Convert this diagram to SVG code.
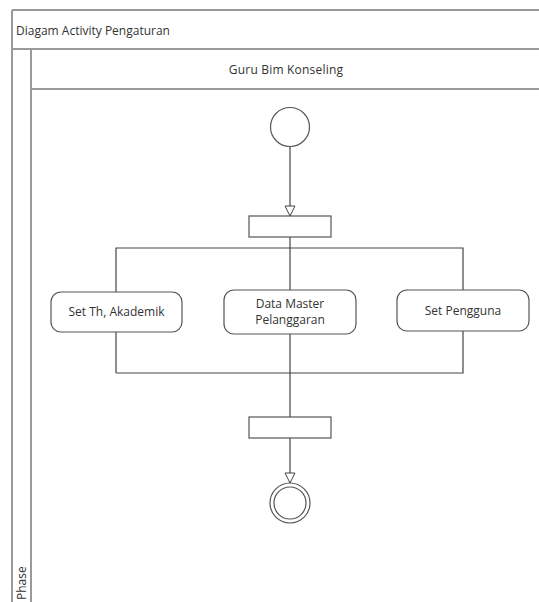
<svg xmlns="http://www.w3.org/2000/svg" width="539" height="602" viewBox="0 0 539 602">
  <style>
    .frame { fill: none; stroke: #9a9a9a; stroke-width: 2; }
    .shape { fill: #ffffff; stroke: #555555; stroke-width: 1.2; }
    .line { fill: none; stroke: #444444; stroke-width: 1.2; }
    .label { font-family: "Open Sans", "Liberation Sans", sans-serif; font-size: 12px; fill: #333333; }
  </style>
  <defs>
    <marker id="open-arrow" viewBox="0 0 12 12" refX="11" refY="6" markerWidth="12" markerHeight="12" markerUnits="userSpaceOnUse" orient="auto">
      <path d="M1,1 L11,6 L1,11 Z" fill="#ffffff" stroke="#444444" stroke-width="1"/>
    </marker>
  </defs>
  <rect width="539" height="602" fill="#ffffff"/>

  <!-- diagram frame and swimlane -->
  <g id="frame">
    <line class="frame" x1="12" y1="10" x2="539" y2="10"/>
    <line class="frame" x1="12" y1="10" x2="12" y2="602"/>
    <line class="frame" x1="12" y1="49" x2="539" y2="49"/>
    <line class="frame" x1="31" y1="49" x2="31" y2="602"/>
    <line class="frame" x1="31" y1="89" x2="539" y2="89"/>
    <text class="label" x="16" y="35" font-size="12.7">Diagam Activity Pengaturan</text>
    <text class="label" x="286" y="74" text-anchor="middle" font-size="13" letter-spacing="0.2">Guru Bim Konseling</text>
    <text class="label" transform="translate(26,600) rotate(-90)" font-size="10.5">Phase</text>
  </g>

  <!-- connectors -->
  <g id="connectors">
    <line class="line" x1="290" y1="147" x2="290" y2="216" marker-end="url(#open-arrow)"/>
    <line class="line" x1="290" y1="237" x2="290" y2="417"/>
    <polyline class="line" points="116,373 116,248 463,248 463,373 116,373"/>
    <line class="line" x1="290" y1="438" x2="290" y2="483" marker-end="url(#open-arrow)"/>
  </g>

  <g id="start">
    <circle class="shape" cx="290" cy="127" r="19.5"/>
  </g>

  <g id="fork">
    <rect class="shape" x="249" y="216" width="82" height="21"/>
  </g>

  <g id="set-th-akademik">
    <rect class="shape" x="51" y="292" width="131" height="40" rx="10"/>
    <text class="label" x="116.5" y="316" text-anchor="middle">Set Th, Akademik</text>
  </g>

  <g id="data-master-pelanggaran">
    <rect class="shape" x="224" y="290" width="132" height="44" rx="10"/>
    <text class="label" x="290" y="308" text-anchor="middle">Data Master</text>
    <text class="label" x="290" y="324" text-anchor="middle">Pelanggaran</text>
  </g>

  <g id="set-pengguna">
    <rect class="shape" x="397" y="290" width="132" height="41" rx="10"/>
    <text class="label" x="463" y="315" text-anchor="middle">Set Pengguna</text>
  </g>

  <g id="join">
    <rect class="shape" x="249" y="417" width="82" height="21"/>
  </g>

  <g id="end">
    <circle class="shape" cx="290" cy="503" r="20"/>
    <circle class="shape" cx="290" cy="503" r="16"/>
  </g>
</svg>
